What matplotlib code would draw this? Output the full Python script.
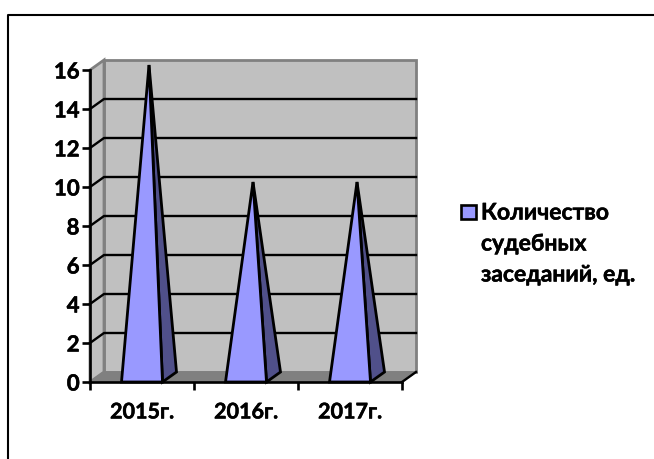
import matplotlib
matplotlib.use("Agg")
import matplotlib.pyplot as plt
import matplotlib.patheffects as pe
from matplotlib.patches import Polygon, Rectangle

categories = ["2015г.", "2016г.", "2017г."]
values = [16, 10, 10]
y_ticks = [0, 2, 4, 6, 8, 10, 12, 14, 16]
series_name = ["Количество", "судебных", "заседаний, ед."]

W, H = 654, 459
plt.rcParams['font.family'] = ['Lato', 'Open Sans', 'DejaVu Sans']
fig = plt.figure(figsize=(W/100, H/100), dpi=100)
fig.patch.set_facecolor('white')
heavy = [pe.withStroke(linewidth=0.35, foreground='black')]

# front plane of the plot: x 90..402 px, y 382..70 px
ax = fig.add_axes([90/W, 1-382/H, 312/W, 312/H])
ax.set_xlim(0, 3)
ax.set_ylim(0, 16)
ax.patch.set_visible(False)
for s in ['top', 'right']:
    ax.spines[s].set_visible(False)
for s in ['left', 'bottom']:
    ax.spines[s].set_linewidth(1.9)
    ax.spines[s].set_color('black')
    ax.spines[s].set_zorder(10)

dx = 14/104      # depth offset in category units
dy = 10/19.5     # depth offset in value units
hw = 20.5/104    # half width of pyramid in category units
kw = dict(clip_on=False)

# walls
ax.add_patch(Polygon([(dx, dy), (3+dx, dy), (3+dx, 16+dy), (dx, 16+dy)], fc='#C0C0C0', ec='#808080', lw=2, zorder=1, **kw))
ax.add_patch(Polygon([(0, 0), (dx, dy), (dx, 16+dy), (0, 16)], fc='#C0C0C0', ec='#808080', lw=2, zorder=1, **kw))
ax.add_patch(Polygon([(0, 0), (3, 0), (3+dx, dy), (dx, dy)], fc='#808080', ec='#808080', lw=1, zorder=1, **kw))

# gridlines
for t in y_ticks[1:-1]:
    ax.plot([0, dx, 3+dx], [t, t+dy, t+dy], color='black', lw=1.7, zorder=2, **kw)
ax.plot([3, 3+dx], [0, dy], color='black', lw=1.7, zorder=3, **kw)

# pyramids
for i, v in enumerate(values):
    c = i + 0.5
    apex = (c + dx/2, v + dy/2)
    left = (c - hw, 0)
    right = (c + hw, 0)
    back = (c + hw + dx, dy)
    ax.add_patch(Polygon([right, back, apex], fc='#50508A', ec='black', lw=2, joinstyle='miter', zorder=4, **kw))
    ax.add_patch(Polygon([left, right, apex], fc='#9999FF', ec='black', lw=2, joinstyle='miter', zorder=5, **kw))

ax.set_xticks([0, 1, 2, 3])
ax.set_xticklabels([])
ax.set_xticks([0.5, 1.5, 2.5], labels=categories, minor=True)
ax.tick_params(axis='x', which='major', length=6, width=1.9, color='black')
ax.tick_params(axis='x', which='minor', length=0, pad=14, labelsize=15.5)
ax.set_yticks(y_ticks)
ax.tick_params(axis='y', length=6, width=1.9, pad=1.5, labelsize=16)
for lab in ax.get_xticklabels(minor=True) + ax.get_yticklabels():
    lab.set_fontweight('bold')
    lab.set_path_effects(heavy)

# outer frame: top and left edges only
fig.add_artist(plt.Line2D([8/W, 8/W, 1], [0, 1-15/H, 1-15/H], color='black', lw=1.5))

# legend
fig.add_artist(Rectangle((461/W, 1-219/H), 14.5/W, 14.5/H, fc='#9999FF', ec='black', lw=1.9, transform=fig.transFigure))
for name, y in zip(series_name, [213, 244, 275]):
    fig.text(481/W, 1-y/H, name, fontsize=16.5, fontweight='bold', va='center', ha='left', path_effects=heavy)

fig.savefig('out.png', dpi=100)
